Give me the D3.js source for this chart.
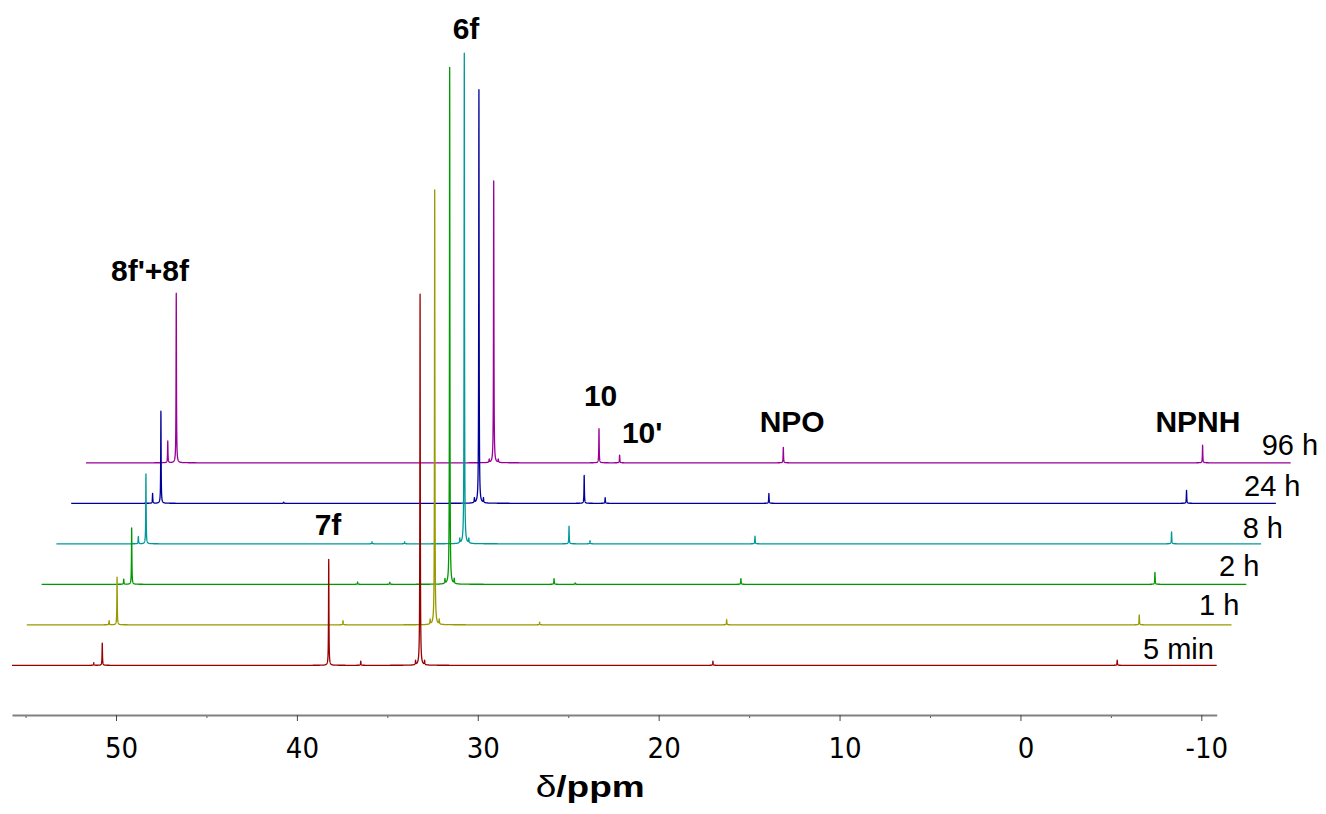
<!DOCTYPE html>
<html>
<head>
<meta charset="utf-8">
<script src="https://cdn.jsdelivr.net/npm/d3@7"></script>
<style>
  html, body { margin: 0; padding: 0; background: #fff; }
  svg { display: block; }
</style>
</head>
<body>
<svg id="chart" width="1326" height="814"></svg>
<script>
// ---------------- DATA ----------------
// spectra, bottom to top
const spectra = ["5 min", "1 h", "2 h", "8 h", "24 h", "96 h"];
const colors  = ["#990000", "#999900", "#009900", "#009999", "#000099", "#990099"];

// peak lists: [chemical shift (ppm), intensity (arbitrary units, 2 h main peak = 100)]
const peaks5min = [[51.23, 0.5], [50.76, 4.3], [38.24, 20.5], [36.47, 0.8], [33.44, 0.8], [33.19, 71.8], [32.94, 0.8], [17.0, 0.8], [-5.35, 1.0]];
const peaks1h   = [[51.20, 0.8], [50.76, 9.2], [38.27, 0.8], [33.45, 0.9], [33.20, 84.1], [32.95, 0.9], [27.40, 0.5], [17.06, 1.0], [-5.75, 1.9]];
const peaks2h   = [[51.21, 1.0], [50.77, 10.9], [38.28, 0.45], [36.50, 0.4], [33.45, 0.9], [33.19, 100], [32.94, 0.9], [27.42, 1.1], [26.25, 0.25], [17.09, 1.1], [-5.80, 2.3]];
const peaks8h   = [[51.22, 1.4], [50.80, 13.5], [38.30, 0.4], [36.50, 0.4], [33.45, 0.9], [33.20, 94.9], [32.95, 0.9], [27.41, 3.4], [26.25, 0.6], [17.13, 1.5], [-5.90, 2.3]];
const peaks24h  = [[51.25, 1.9], [50.79, 17.8], [44.0, 0.2], [33.46, 0.9], [33.21, 80.0], [32.96, 0.9], [27.39, 5.4], [26.23, 1.1], [17.18, 1.9], [-5.91, 2.5]];
const peaks96h  = [[51.23, 4.2], [50.76, 32.8], [33.46, 0.6], [33.21, 54.5], [32.96, 0.6], [27.39, 6.6], [26.25, 1.5], [17.20, 3.0], [-5.98, 3.4]];
const peakSets  = [peaks5min, peaks1h, peaks2h, peaks8h, peaks24h, peaks96h];

// axis ticks
const majorTicks = [50, 40, 30, 20, 10, 0, -10];
const minorTicks = [55, 45, 35, 25, 15, 5, -5];
const axisTitleSymbol = "δ";
const axisTitleUnit = "/ppm";

// peak assignment labels (text) and their anchor shifts (ppm, on the axis scale)
const peakLabels = ["8f'+8f", "6f", "7f", "10", "10'", "NPO", "NPNH"];
const peakLabelPpm = [48.12, 30.65, 38.28, 23.21, 20.91, 12.62, -9.81];

// ---------------- LAYOUT ----------------
const W = 1326, H = 814;
const ppmRange = [55.75, -10.85];
const plotX = [12, 1216.7];
const axisY = 715;
const baseY0 = 665.3, stepY = 40.5, stepX = 14.8;
const fullHeightPx = 517;          // px for intensity 100
const peakLabelBaseline = [281, 39.3, 535.3, 405.7, 442.7, 431.7, 431.7];
const spectrumLabelPos = [[1143, 659], [1199, 615], [1219, 575.7], [1242.7, 538], [1244, 495.7], [1261.7, 455]];
const lw = 0.013; // Lorentzian half width, ppm

const svg = d3.select("#chart");
svg.append("rect").attr("width", W).attr("height", H).attr("fill", "#fff");

const x = d3.scaleLinear().domain(ppmRange).range(plotX);
const y = d3.scaleLinear().domain([0, 100]).range([0, fullHeightPx]);
const offX = d3.scaleLinear().domain([0, 1]).range([0, stepX]);
const offY = d3.scaleLinear().domain([0, 1]).range([baseY0, baseY0 - stepY]);

function spectrumPoints(peaks) {
  const pts = [];
  for (let p = ppmRange[0]; p >= ppmRange[1] - 1e-9; p -= 0.02) pts.push(p);
  peaks.forEach(([c]) => {
    for (let k = -80; k <= 80; k++) pts.push(c + k * 0.003);
  });
  const uniq = Array.from(new Set(pts.map(p => Math.round(p * 1e4) / 1e4)))
    .filter(p => p <= ppmRange[0] && p >= ppmRange[1])
    .sort((a, b) => b - a);
  return uniq.map(p => {
    let v = 0;
    peaks.forEach(([c, h]) => { const t = (p - c) / lw; v += h / (1 + t * t); });
    return [p, v];
  });
}

const gSpec = svg.append("g");
// draw top trace first so lower traces sit on top
for (let i = spectra.length - 1; i >= 0; i--) {
  const dx = offX(i), by = offY(i);
  const line = d3.line()
    .x(d => x(d[0]) + dx)
    .y(d => by - y(d[1]));
  gSpec.append("path")
    .datum(spectrumPoints(peakSets[i]))
    .attr("d", line)
    .attr("fill", "none")
    .attr("stroke", colors[i])
    .attr("stroke-width", 1.3)
    .attr("stroke-linejoin", "round");
}

// spectrum labels
svg.append("g").selectAll("text").data(spectra).join("text")
  .attr("x", (d, i) => spectrumLabelPos[i][0])
  .attr("y", (d, i) => spectrumLabelPos[i][1])
  .attr("font-family", "'Liberation Sans', Arial, sans-serif")
  .attr("font-size", 29)
  .attr("fill", "#000")
  .text(d => d);

// peak labels
svg.append("g").selectAll("text").data(peakLabels).join("text")
  .attr("x", (d, i) => x(peakLabelPpm[i]))
  .attr("y", (d, i) => peakLabelBaseline[i])
  .attr("text-anchor", "middle")
  .attr("font-family", "'Liberation Sans', Arial, sans-serif")
  .attr("font-weight", "bold")
  .attr("font-size", 30)
  .attr("fill", "#000")
  .text(d => d);

// axis
const gMinor = svg.append("g").attr("transform", `translate(0,${axisY})`)
  .call(d3.axisBottom(x).tickValues(minorTicks).tickSize(3).tickSizeOuter(0).tickFormat(""));
gMinor.select(".domain").remove();
gMinor.selectAll("line").attr("stroke", "#555").attr("stroke-width", 1);

const gAxis = svg.append("g").attr("transform", `translate(0,${axisY})`)
  .call(d3.axisBottom(x).tickValues(majorTicks).tickSize(6).tickSizeOuter(0).tickFormat(d => String(d)));
gAxis.select(".domain").attr("stroke", "#808080").attr("stroke-width", 2);
gAxis.selectAll(".tick line").attr("stroke", "#444").attr("stroke-width", 1);
gAxis.selectAll(".tick text")
  .attr("y", 43.3).attr("dy", 0).attr("dx", 5)
  .attr("fill", "#000")
  .attr("font-family", "'DejaVu Sans Condensed', 'DejaVu Sans', sans-serif")
  .style("font-stretch", "condensed")
  .attr("font-size", 29);

// axis title
const title = svg.append("text")
  .attr("x", 535.7).attr("y", 797)
  .attr("font-family", "'Liberation Sans', Arial, sans-serif")
  .attr("font-size", 30)
  .attr("fill", "#000")
  .attr("textLength", 109)
  .attr("lengthAdjust", "spacingAndGlyphs");
title.append("tspan").text(axisTitleSymbol);
title.append("tspan").attr("font-weight", "bold").text(axisTitleUnit);
</script>
</body>
</html>
